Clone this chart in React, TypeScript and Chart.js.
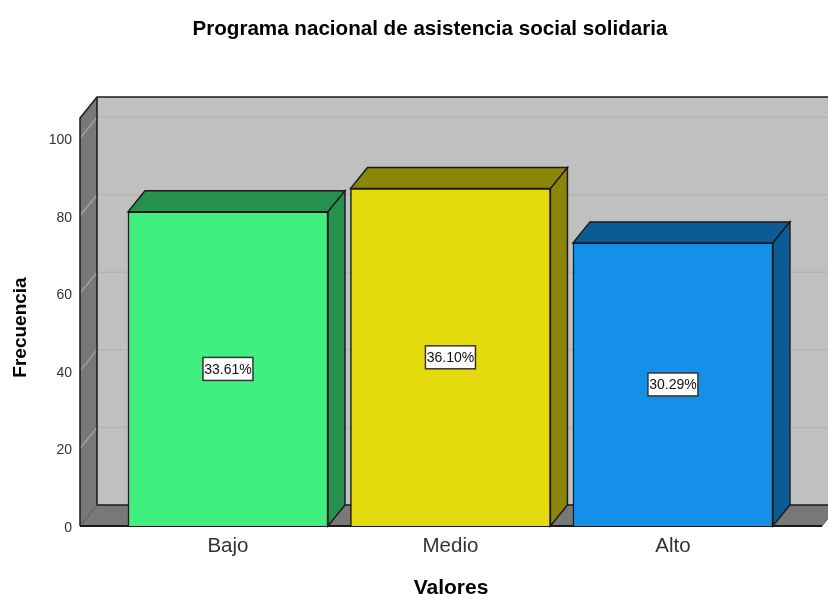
import React, { useEffect, useRef } from "react";
import { Chart, registerables } from "chart.js";

Chart.register(...registerables);

const categories = ["Bajo", "Medio", "Alto"];
const frequencies = [81, 87, 73];
const percentLabels = ["33.61%", "36.10%", "30.29%"];
const frontColors = ["#41EE80", "#E3D90D", "#1490E8"];
const depthColors = ["#26914F", "#8C8608", "#0B5B94"];
const yTicks = [0, 20, 40, 60, 80, 100];
const yAxisTitle = "Frecuencia";

const DX = 17;
const DY = -21;
const FONT = '"Liberation Sans", Arial, sans-serif';
const EDGE = "#1a1a1a";

function poly(ctx: CanvasRenderingContext2D, pts: number[][], fill: string, stroke: string | null, lw = 1.5) {
  ctx.beginPath();
  pts.forEach((p, i) => (i ? ctx.lineTo(p[0], p[1]) : ctx.moveTo(p[0], p[1])));
  ctx.closePath();
  ctx.fillStyle = fill;
  ctx.fill();
  if (stroke) {
    ctx.strokeStyle = stroke;
    ctx.lineWidth = lw;
    ctx.stroke();
  }
}

const scene3d = {
  id: "scene3d",
  beforeDatasetsDraw(chart: any) {
    const { ctx, chartArea: a, scales } = chart;
    const { left: l, right: r, top: t, bottom: b } = a;
    const W = chart.width + 40;
    ctx.save();
    // back wall
    poly(ctx, [[l + DX, t + DY], [W, t + DY], [W, b + DY], [l + DX, b + DY]], "#C0C0C0", null);
    // left wall
    poly(ctx, [[l, t], [l + DX, t + DY], [l + DX, b + DY], [l, b]], "#787878", null);
    // floor
    poly(ctx, [[l, b], [l + DX, b + DY], [W, b + DY], [r + DX, b + DY], [r, b]], "#787878", null);
    // grid lines
    ctx.lineWidth = 1.5;
    yTicks.slice(1).forEach((v) => {
      const y = scales.y.getPixelForValue(v);
      ctx.strokeStyle = "#B4B4B4";
      ctx.beginPath();
      ctx.moveTo(l + DX, y + DY);
      ctx.lineTo(W, y + DY);
      ctx.stroke();
      ctx.strokeStyle = "#A0A0A0";
      ctx.beginPath();
      ctx.moveTo(l, y);
      ctx.lineTo(l + DX, y + DY);
      ctx.stroke();
    });
    // wall edges
    ctx.strokeStyle = EDGE;
    ctx.lineWidth = 1.5;
    ctx.beginPath();
    ctx.moveTo(l, b);
    ctx.lineTo(l, t);
    ctx.lineTo(l + DX, t + DY);
    ctx.lineTo(W, t + DY);
    ctx.moveTo(l + DX, t + DY);
    ctx.lineTo(l + DX, b + DY);
    ctx.lineTo(W, b + DY);
    ctx.stroke();
    ctx.strokeStyle = "#555555";
    ctx.lineWidth = 1;
    ctx.beginPath();
    ctx.moveTo(l, b);
    ctx.lineTo(l + DX, b + DY);
    ctx.moveTo(r, b);
    ctx.lineTo(r + DX, b + DY);
    ctx.stroke();
    ctx.strokeStyle = EDGE;
    ctx.lineWidth = 2;
    ctx.beginPath();
    ctx.moveTo(l, b);
    ctx.lineTo(r, b);
    ctx.stroke();
    // bar depth faces
    chart.getDatasetMeta(0).data.forEach((bar: any, i: number) => {
      const x0 = bar.x - bar.width / 2;
      const x1 = bar.x + bar.width / 2;
      const yt = bar.y;
      const yb = bar.base;
      poly(ctx, [[x0, yt], [x0 + DX, yt + DY], [x1 + DX, yt + DY], [x1, yt]], depthColors[i], EDGE);
      poly(ctx, [[x1, yt], [x1 + DX, yt + DY], [x1 + DX, yb + DY], [x1, yb]], depthColors[i], EDGE);
    });
    ctx.restore();
  },
  afterDatasetsDraw(chart: any) {
    const { ctx } = chart;
    ctx.save();
    ctx.font = `14px ${FONT}`;
    ctx.textAlign = "center";
    ctx.textBaseline = "middle";
    chart.getDatasetMeta(0).data.forEach((bar: any, i: number) => {
      const y = (bar.y + bar.base) / 2;
      const w = 50;
      const h = 23;
      ctx.fillStyle = "#FFFFFF";
      ctx.strokeStyle = "#333333";
      ctx.lineWidth = 1.5;
      ctx.fillRect(bar.x - w / 2, y - h / 2, w, h);
      ctx.strokeRect(bar.x - w / 2, y - h / 2, w, h);
      ctx.fillStyle = "#111111";
      ctx.fillText(percentLabels[i], bar.x, y + 1);
    });
    // rotated value-axis title
    ctx.translate(21, 327.5);
    ctx.rotate(-Math.PI / 2);
    ctx.font = `bold 19px ${FONT}`;
    ctx.fillStyle = "#000000";
    ctx.fillText(yAxisTitle, 0, 0);
    ctx.restore();
  },
};

export default function App() {
  const ref = useRef<HTMLCanvasElement>(null);
  useEffect(() => {
    const chart = new Chart(ref.current as HTMLCanvasElement, {
      type: "bar",
      data: {
        datasets: [
          {
            data: frequencies.map((y, i) => ({ x: i, y })),
            backgroundColor: frontColors,
            borderColor: EDGE,
            borderWidth: 1.5,
            barThickness: 200,
          },
        ],
      },
      options: {
        animation: false,
        responsive: false,
        layout: { padding: { top: 0, left: 38, right: 6, bottom: 0 } },
        plugins: {
          legend: { display: false },
          tooltip: { enabled: false },
          title: {
            display: true,
            text: "Programa nacional de asistencia social solidaria",
            color: "#000000",
            font: { family: FONT, size: 20.6, weight: "bold", lineHeight: 1.2 },
            padding: { top: 16.6, bottom: 76.7 },
          },
        },
        scales: {
          x: {
            type: "linear",
            offset: false,
            min: -0.665,
            max: 2.67,
            grid: { display: false },
            border: { display: false },
            afterBuildTicks(scale: any) {
              scale.ticks = categories.map((_, i) => ({ value: i }));
            },
            afterFit(scale: any) {
              scale.height = 68;
            },
            ticks: {
              autoSkip: false,
              maxRotation: 0,
              padding: 0,
              color: "#333333",
              font: { family: FONT, size: 20.5 },
              callback: (v: any) => categories[v as number],
            },
            title: {
              display: true,
              text: "Valores",
              color: "#000000",
              font: { family: FONT, size: 21, weight: "bold" },
              padding: { top: 0, bottom: -7 },
            },
          },
          y: {
            type: "linear",
            min: 0,
            max: 105.2,
            grid: { display: false },
            border: { display: false },
            afterFit(scale: any) {
              scale.width = 42;
            },
            ticks: {
              stepSize: 20,
              includeBounds: false,
              padding: 0,
              labelOffset: 2,
              color: "#333333",
              font: { family: FONT, size: 14 },
            },
          },
        },
      } as any,
      plugins: [scene3d],
    });
    return () => chart.destroy();
  }, []);
  return (
    <div style={{ position: "fixed", left: 0, top: 0, width: 828, height: 594, background: "#fff", overflow: "hidden" }}>
      <canvas ref={ref} width={828} height={594} style={{ display: "block" }} />
    </div>
  );
}
